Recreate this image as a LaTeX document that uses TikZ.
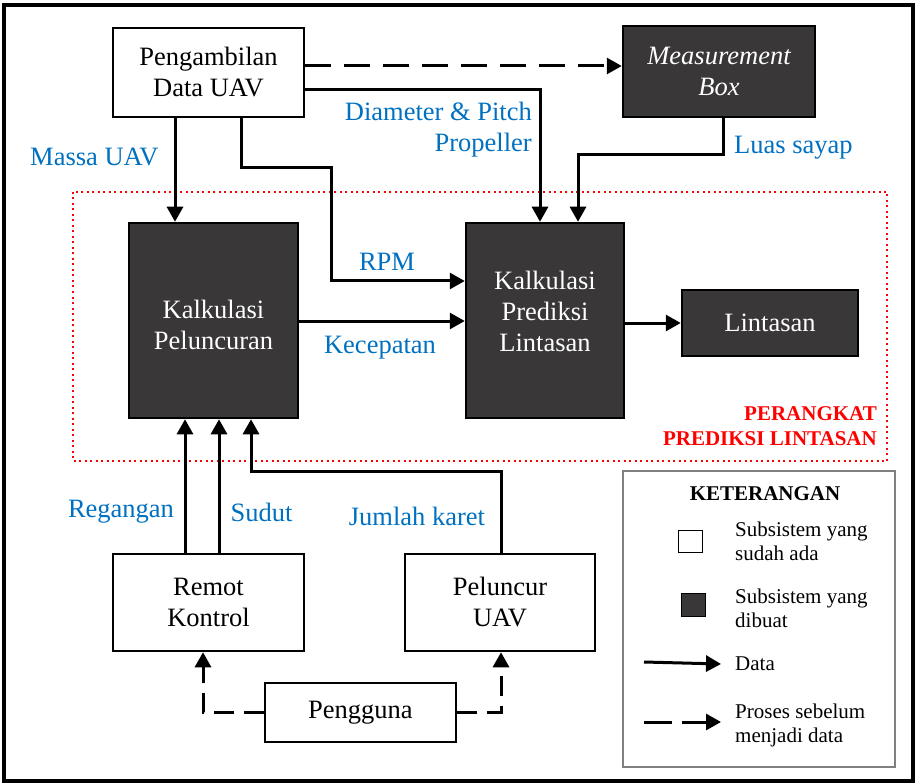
\documentclass[tikz,border=0pt]{standalone}
\usepackage{fontspec}
\setmainfont{Liberation Serif}
\usetikzlibrary{arrows.meta}
\definecolor{dk}{RGB}{57,55,56}
\definecolor{lbl}{RGB}{0,112,192}
\definecolor{rd}{RGB}{255,0,0}
\begin{document}
\begin{tikzpicture}[x=1pt,y=-1pt,
 box/.style={draw=black, line width=2.5pt, align=center, font=\fontsize{26.5}{31}\selectfont, inner sep=0pt},
 wbox/.style={box, fill=white},
 dbox/.style={box, fill=dk, text=white},
 conn/.style={line width=3pt, -{Triangle[length=15pt,width=16pt]}},
 dconn/.style={conn, dash pattern=on 26pt off 13pt},
 dconnb/.style={conn, dash pattern=on 20pt off 10pt},
 lab/.style={text=lbl, font=\fontsize{26.5}{31}\selectfont, inner sep=0pt},
 leg/.style={font=\fontsize{21}{24}\selectfont, inner sep=0pt, align=left}]
\useasboundingbox (0,0) rectangle (917,783);
\draw[line width=3.5pt] (4,5) rectangle (913,781);
% red dotted region
\draw[rd, line width=2pt, dash pattern=on 2pt off 3.5pt] (73,192) rectangle (887,461);
% boxes
\node[wbox, minimum width=191pt, minimum height=89pt] (peng) at (208.5,72.5) {Pengambilan\\Data UAV};
\node[dbox, minimum width=192pt, minimum height=91pt, font=\itshape\fontsize{26.5}{31}\selectfont] (meas) at (719,71.5) {Measurement\\Box};
\node[dbox, minimum width=169pt, minimum height=195pt, text height=59pt] (kp) at (213.5,320.5) {Kalkulasi\\Peluncuran};
\node[dbox, minimum width=158pt, minimum height=195pt, text depth=18pt] (pred) at (545,320.5) {Kalkulasi\\Prediksi\\Lintasan};
\node[dbox, minimum width=176pt, minimum height=66pt] (lint) at (770,323) {Lintasan};
\node[wbox, minimum width=191pt, minimum height=97pt] (remot) at (208.5,602.5) {Remot\\Kontrol};
\node[wbox, minimum width=190pt, minimum height=97pt] (pelun) at (500,602.5) {Peluncur\\UAV};
\node[wbox, minimum width=191pt, minimum height=59pt] (user) at (360.5,712.5) {Pengguna};
% connectors
\draw[dconn] (peng.east |- 0,66) -- (meas.west |- 0,66);
\draw[conn] (peng.east |- 0,90) -| ([xshift=-5pt]pred.north);
\draw[conn] ([xshift=4pt]meas.south) -- ++(0,36) -| ([xshift=33pt]pred.north);
\draw[conn] (peng.south -| 175,0) -- (kp.north -| 175,0);
\draw[conn] (peng.south -| 241,0) |- (331,168) |- (pred.west |- 0,281);
\draw[conn] (kp.east |- 0,321) -- (pred.west |- 0,321);
\draw[conn] (pred.east |- 0,323) -- (lint.west);
\draw[conn] (remot.north -| 185,0) -- (kp.south -| 185,0);
\draw[conn] (remot.north -| 219,0) -- (kp.south -| 219,0);
\draw[conn] ([xshift=1pt]pelun.north) |- (251,471) -- (kp.south -| 251,0);
\draw[dconnb] (user.west) -| (remot.south -| 203,0);
\draw[dconnb] (user.east) -| ([xshift=1pt]pelun.south);
% labels
\node[lab, anchor=west] at (30,157) {Massa UAV};
\node[lab, anchor=east, align=right] at (532,130) {Diameter \& Pitch\\Propeller};
\node[lab, anchor=west] at (734,148) {Luas sayap};
\node[lab] at (387,262) {RPM};
\node[lab] at (380,348) {Kecepatan};
\node[lab] at (121,512) {Regangan};
\node[lab] at (261.5,512) {Sudut};
\node[lab] at (417,516) {Jumlah karet};
\node[anchor=east, align=right, text=rd, inner sep=0pt, font=\bfseries\fontsize{21}{25}\selectfont] at (877,426) {PERANGKAT\\PREDIKSI LINTASAN};
% legend
\draw[gray, line width=1.5pt] (623,471) rectangle (895,767);
\node[font=\bfseries\fontsize{21}{24}\selectfont, inner sep=0pt] (kt) at (765,494) {KETERANGAN};
\node[draw=black, line width=1pt, fill=white, minimum width=24pt, minimum height=22pt, inner sep=0pt] (lw) at (690,541) {};
\node[draw=black, line width=1pt, fill=dk, minimum width=24pt, minimum height=23pt, inner sep=0pt] (ld) at (693,604.5) {};
\node[leg, anchor=west] (lt1) at (735,541.5) {Subsistem yang\\sudah ada};
\node[leg, anchor=west] (lt2) at (735,608) {Subsistem yang\\dibuat};
\coordinate (la1) at (644,662);
\node[leg, anchor=west] (lt3) at (735,664) {Data};
\draw[conn] (la1) -- (lt3.west -| 721,0);
\coordinate (la2) at (644,722);
\node[leg, anchor=west] (lt4) at (735,725.5) {Proses sebelum\\menjadi data};
\draw[conn, dash pattern=on 28pt off 10pt] (la2) -- (721,722);
\end{tikzpicture}
\end{document}
